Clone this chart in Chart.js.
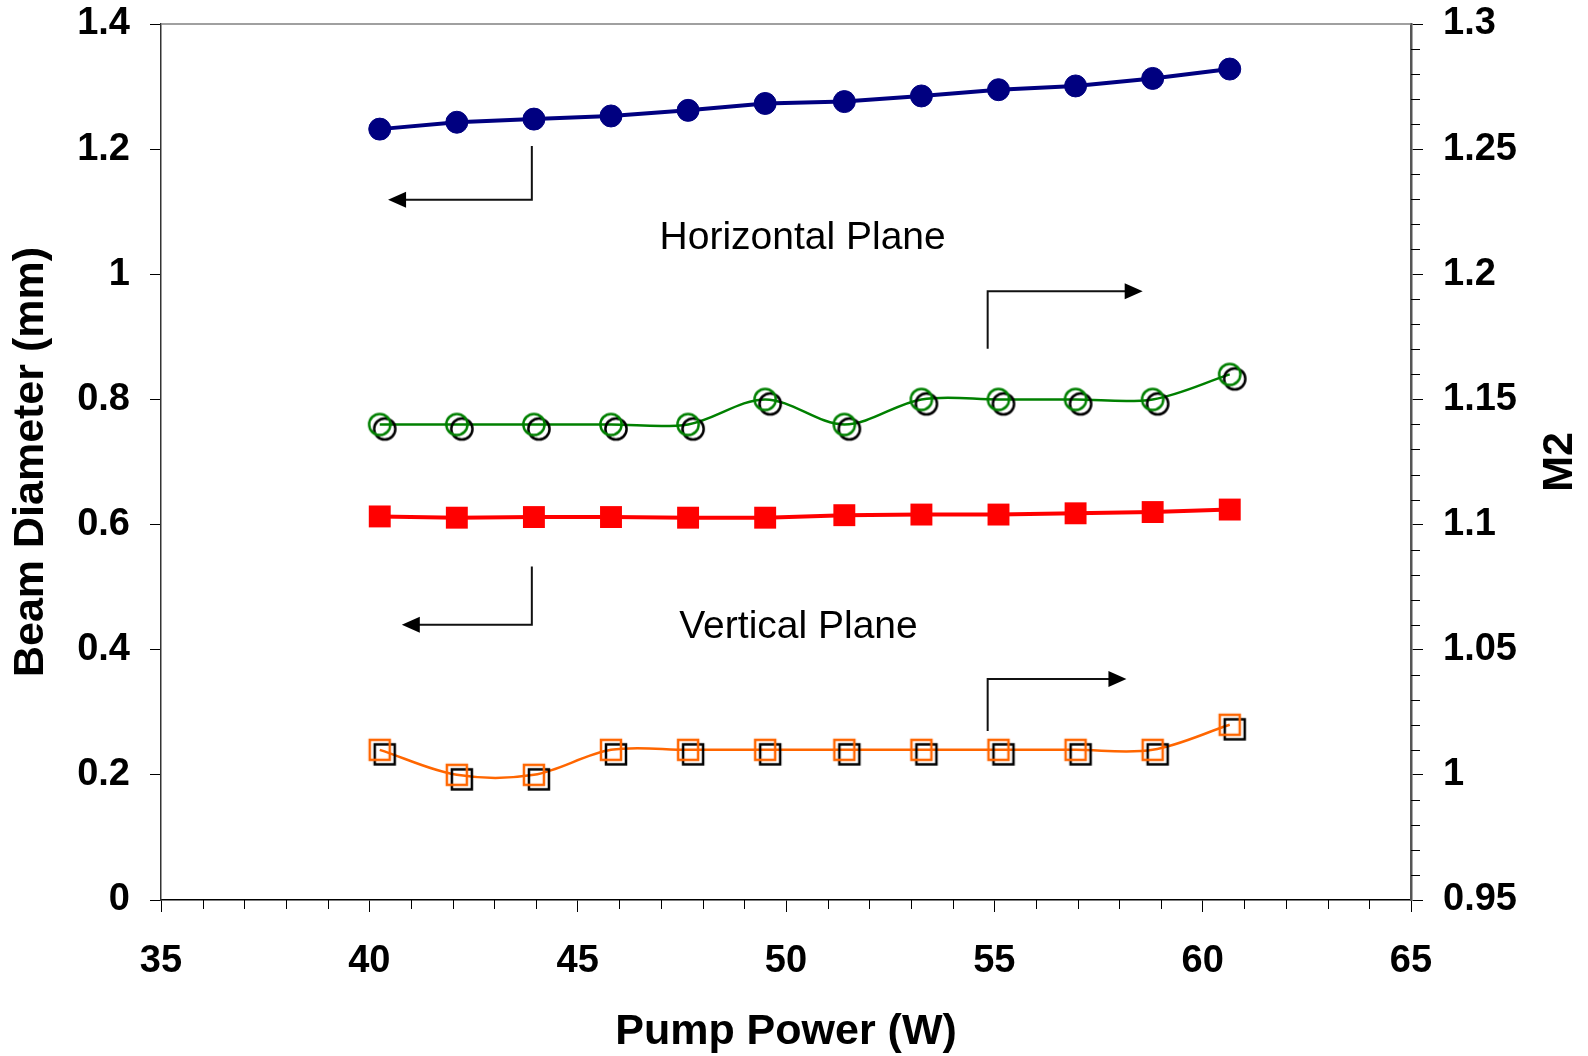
<!DOCTYPE html>
<html lang="en">
<head>
  <meta charset="UTF-8">
  <title>Beam Diameter and M2 vs Pump Power</title>
  <script src="https://cdn.jsdelivr.net/npm/chart.js"></script>
  <style>
    html, body { margin: 0; padding: 0; background: #fff; }
  </style>
</head>
<body>
  <canvas id="beamChart" width="1588" height="1056"></canvas>

  <script>
    // data
    const pumpPower = [40.25, 42.1, 43.95, 45.8, 47.65, 49.5, 51.4, 53.25, 55.1, 56.95, 58.8, 60.65];
    const diamHorizontal = [1.232, 1.243, 1.248, 1.253, 1.262, 1.273, 1.276, 1.285, 1.295, 1.301, 1.313, 1.328];
    const diamVertical = [0.613, 0.611, 0.612, 0.612, 0.611, 0.611, 0.615, 0.616, 0.616, 0.618, 0.620, 0.624];
    const m2Horizontal = [1.14, 1.14, 1.14, 1.14, 1.14, 1.15, 1.14, 1.15, 1.15, 1.15, 1.15, 1.16];
    const m2Vertical = [1.01, 1.00, 1.00, 1.01, 1.01, 1.01, 1.01, 1.01, 1.01, 1.01, 1.01, 1.02];

    // axis ticks
    const xTicks = [35, 40, 45, 50, 55, 60, 65];
    const leftTicks = [0, 0.2, 0.4, 0.6, 0.8, 1, 1.2, 1.4];
    const rightTicks = [0.95, 1, 1.05, 1.1, 1.15, 1.2, 1.25, 1.3];

    // annotation text + arrows (in x / left-axis units)
    const planeLabels = ['Horizontal Plane', 'Vertical Plane'];
    const planeLabelAt = [[50.4, 1.057], [50.3, 0.436]];
    // [corner x, start y, elbow y, tip x]
    const arrows = [
      [43.9, 1.205, 1.119, 40.45],
      [54.84, 0.881, 0.973, 58.56],
      [43.9, 0.533, 0.440, 40.78],
      [54.84, 0.270, 0.353, 58.17]
    ];

    const FONT = "'Liberation Sans', Arial, sans-serif";
    Chart.defaults.font.family = FONT;
    Chart.defaults.color = '#000';

    const pts = (ys) => pumpPower.map((x, i) => ({ x, y: ys[i] }));

    // hollow marker with black offset copy behind it
    function shadowMarker(color, shape) {
      const c = document.createElement('canvas');
      c.width = 44; c.height = 44;
      const g = c.getContext('2d');
      g.lineWidth = 2.5;
      const draw = (cx, cy, stroke) => {
        g.strokeStyle = stroke;
        g.beginPath();
        if (shape === 'circle') g.arc(cx, cy, 10.6, 0, Math.PI * 2);
        else g.rect(cx - 10, cy - 10, 20, 20);
        g.stroke();
      };
      draw(27, 26.5, '#000');
      draw(22, 22, color);
      return c;
    }

    const fixTicks = (list) => (scale) => { scale.ticks = list.map(v => ({ value: v })); };
    const fmt = (v) => String(+Number(v).toFixed(2));
    const sideAxisFit = (w) => (s) => {
      s.width = w;
      s.paddingTop = 0;
      s.paddingBottom = 0;
    };

    const extras = {
      id: 'extras',
      afterDraw(chart) {
        const { ctx, chartArea: a, scales: { x, y, y2 } } = chart;
        ctx.save();

        // top frame line
        ctx.strokeStyle = '#808080';
        ctx.lineWidth = 1.5;
        ctx.beginPath();
        ctx.moveTo(a.left, a.top);
        ctx.lineTo(a.right, a.top);
        ctx.stroke();

        // minor ticks
        ctx.strokeStyle = '#000';
        ctx.lineWidth = 1;
        ctx.beginPath();
        for (let v = 36; v < 65; v++) {
          if (v % 5 === 0) continue;
          const px = Math.round(x.getPixelForValue(v)) + 0.5;
          ctx.moveTo(px, a.bottom);
          ctx.lineTo(px, a.bottom + 9);
        }
        for (let k = 96; k < 130; k++) {
          if (k % 5 === 0) continue;
          const py = Math.round(y2.getPixelForValue(k / 100)) + 0.5;
          ctx.moveTo(a.right, py);
          ctx.lineTo(a.right + 9, py);
        }
        ctx.stroke();

        // arrows
        ctx.strokeStyle = '#111';
        ctx.fillStyle = '#000';
        ctx.lineWidth = 2;
        arrows.forEach(([cx, y0, y1, tip]) => {
          const px = x.getPixelForValue(cx);
          const p0 = y.getPixelForValue(y0);
          const p1 = y.getPixelForValue(y1);
          const pt = x.getPixelForValue(tip);
          const dir = Math.sign(pt - px);
          ctx.beginPath();
          ctx.moveTo(px, p0);
          ctx.lineTo(px, p1);
          ctx.lineTo(pt - dir * 16, p1);
          ctx.stroke();
          ctx.beginPath();
          ctx.moveTo(pt, p1);
          ctx.lineTo(pt - dir * 18, p1 - 8);
          ctx.lineTo(pt - dir * 18, p1 + 8);
          ctx.closePath();
          ctx.fill();
        });

        // plane labels
        ctx.font = '39px ' + FONT;
        ctx.textAlign = 'center';
        ctx.textBaseline = 'middle';
        planeLabels.forEach((t, i) => {
          ctx.fillText(t, x.getPixelForValue(planeLabelAt[i][0]), y.getPixelForValue(planeLabelAt[i][1]));
        });

        // right axis title, reads bottom-to-top
        ctx.font = 'bold 43px ' + FONT;
        ctx.translate(1560, (a.top + a.bottom) / 2);
        ctx.rotate(-Math.PI / 2);
        ctx.fillText('M2', 0, 0);
        ctx.restore();
      }
    };

    new Chart(document.getElementById('beamChart'), {
      type: 'line',
      data: {
        datasets: [
          {
            label: 'Beam diameter, horizontal',
            data: pts(diamHorizontal),
            yAxisID: 'y',
            borderColor: '#000080',
            backgroundColor: '#000080',
            borderWidth: 4,
            pointRadius: 11,
            pointBorderWidth: 1,
            pointBackgroundColor: '#000080',
            pointBorderColor: '#000080',
            tension: 0
          },
          {
            label: 'M2, horizontal',
            data: pts(m2Horizontal),
            yAxisID: 'y2',
            borderColor: '#008000',
            borderWidth: 2.5,
            pointStyle: shadowMarker('#008000', 'circle'),
            tension: 0.33
          },
          {
            label: 'Beam diameter, vertical',
            data: pts(diamVertical),
            yAxisID: 'y',
            borderColor: '#ff0000',
            backgroundColor: '#ff0000',
            borderWidth: 4,
            pointStyle: 'rect',
            pointRadius: 15.5,
            pointBorderWidth: 0,
            pointBackgroundColor: '#ff0000',
            tension: 0
          },
          {
            label: 'M2, vertical',
            data: pts(m2Vertical),
            yAxisID: 'y2',
            borderColor: '#ff6600',
            borderWidth: 2.5,
            pointStyle: shadowMarker('#ff6600', 'rect'),
            tension: 0.33
          }
        ]
      },
      options: {
        responsive: false,
        animation: false,
        events: [],
        layout: { padding: { top: 24, left: 0, right: 0, bottom: 0 } },
        plugins: {
          legend: { display: false },
          tooltip: { enabled: false }
        },
        scales: {
          x: {
            type: 'linear',
            min: 35,
            max: 65,
            afterBuildTicks: fixTicks(xTicks),
            afterFit: (s) => { s.height = 156; },
            border: { color: '#000', width: 1.5 },
            grid: { drawOnChartArea: false, tickLength: 12, color: '#000', lineWidth: 1 },
            ticks: { font: { size: 38, weight: 'bold' }, padding: 27, maxRotation: 0, callback: fmt },
            title: {
              display: true,
              text: 'Pump Power (W)',
              font: { size: 43, weight: 'bold', lineHeight: 1.1 },
              padding: { top: 0, bottom: 0 }
            }
          },
          y: {
            position: 'left',
            min: 0,
            max: 1.4,
            afterBuildTicks: fixTicks(leftTicks),
            afterFit: sideAxisFit(161),
            border: { color: '#333', width: 1.5 },
            grid: { drawOnChartArea: false, tickLength: 11, color: '#000', lineWidth: 1 },
            ticks: { font: { size: 38, weight: 'bold' }, padding: 20, callback: fmt },
            title: {
              display: true,
              text: 'Beam Diameter (mm)',
              font: { size: 43, weight: 'bold' },
              padding: { top: 5, bottom: 0 }
            }
          },
          y2: {
            position: 'right',
            min: 0.95,
            max: 1.3,
            afterBuildTicks: fixTicks(rightTicks),
            afterFit: sideAxisFit(177),
            border: { color: '#555', width: 2.5 },
            grid: { drawOnChartArea: false, tickLength: 12, color: '#000', lineWidth: 1 },
            ticks: { font: { size: 38, weight: 'bold' }, padding: 20, callback: fmt }
          }
        }
      },
      plugins: [extras]
    });
  </script>
</body>
</html>
